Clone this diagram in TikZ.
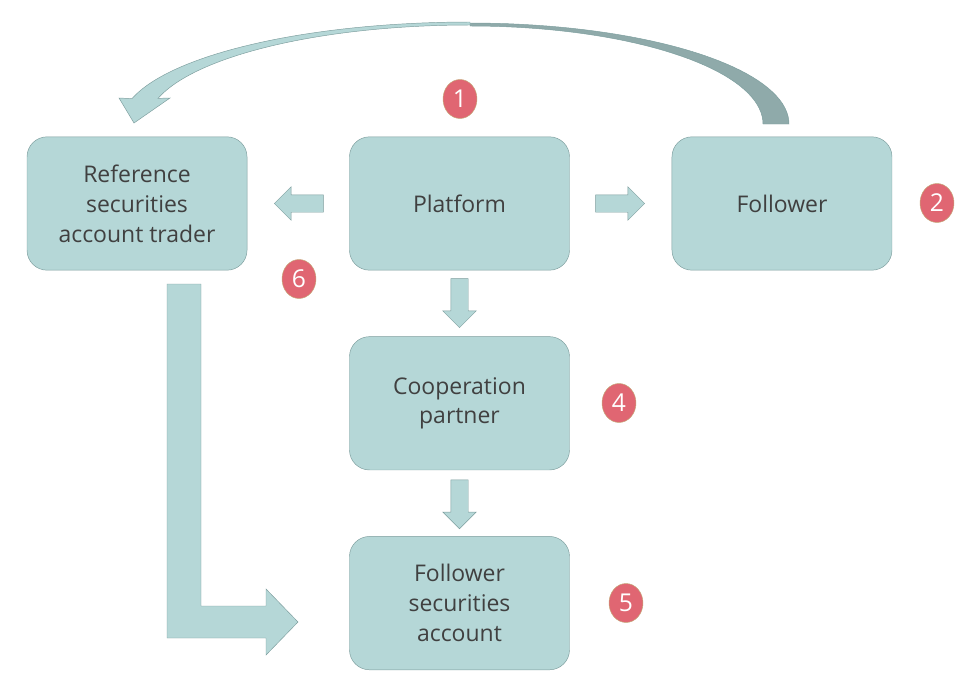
\documentclass[tikz,border=0pt]{standalone}
\usepackage{fontspec}
\setmainfont{Open Sans}
\usetikzlibrary{positioning,calc,shapes.geometric,shapes.arrows}

\definecolor{boxfill}{RGB}{181,215,215}
\definecolor{boxline}{RGB}{125,158,158}
\definecolor{bandfill}{RGB}{143,170,170}
\definecolor{badgefill}{RGB}{224,102,114}
\definecolor{badgeline}{RGB}{196,168,120}
\definecolor{textgray}{RGB}{64,64,64}

\begin{document}
\begin{tikzpicture}[x=0.03cm, y=-0.03cm,
				box/.style={rectangle, rounded corners=0.6cm, draw=boxline, fill=boxfill, minimum width=6.6cm, minimum height=4cm, align=center, text=textgray, font=\fontsize{19.6}{25.5}\selectfont},
				badge/.style={ellipse, draw=badgeline, fill=badgefill, minimum width=1.02cm, minimum height=1.17cm, inner sep=0pt, text=white, font=\fontsize{21}{21}\selectfont},
				barrow/.style={single arrow, draw=boxline, fill=boxfill, minimum height=1.47cm, inner xsep=0pt, inner ysep=0.255cm, single arrow head extend=0.24cm, anchor=tail},
				node distance=1.98cm and 3.06cm
			]
			\useasboundingbox (0,0) rectangle (969,698);
			\node[box] (platform) at (459.5,203.5) {Platform};
			\node[box] (trader) [left=of platform] {Reference\\securities\\account trader};
			\node[box] (follower) [right=of platform] {Follower};
			\node[box] (partner) [below=of platform] {Cooperation\\partner};
			\node[box] (account) [below=of partner] {Follower\\securities\\account};
			% block arrows between the boxes
			\node[barrow, rotate=180] (toleft) at ([xshift=-0.77cm]platform.west) {};
			\node[barrow] (toright) at ([xshift=0.77cm]platform.east) {};
			\node[barrow, rotate=270] (todown1) at ([yshift=-0.24cm]platform.south) {};
			\node[barrow, rotate=270] (todown2) at ([yshift=-0.28cm]partner.south) {};
			% bent arrow from trader to follower account
			\draw[boxline, fill=boxfill] (167,284) -- (201,284) -- (201,606) -- (266,606) -- (266,589)
				-- (298,622) -- (266,655) -- (266,638) -- (167,638) -- cycle;
			% curved arrow from follower back to trader
			\draw[boxline, fill=bandfill] plot[domain=0:90, samples=40] ({470+319*cos(\x)},{124-101*sin(\x)})
				-- plot[domain=90:0, samples=40] ({470+293*cos(\x)},{124-98*sin(\x)}) -- cycle;
			\draw[boxline, fill=boxfill] plot[domain=90:165.6, samples=40] ({470+349*cos(\x)},{124-102*sin(\x)})
				-- (119,98) -- (134,123) -- (170,98)
				-- plot[domain=165:90, samples=40] ({470+323*cos(\x)},{124-99*sin(\x)}) -- cycle;
			% step numbers
			\node[badge] (n1) at (460,99) {1};
			\node[badge] (n2) at (937,203) {2};
			\node[badge] (n6) at (299,279) {6};
			\node[badge] (n4) at (619,403) {4};
			\node[badge] (n5) at (626,603) {5};
			\end{tikzpicture}
\end{document}
